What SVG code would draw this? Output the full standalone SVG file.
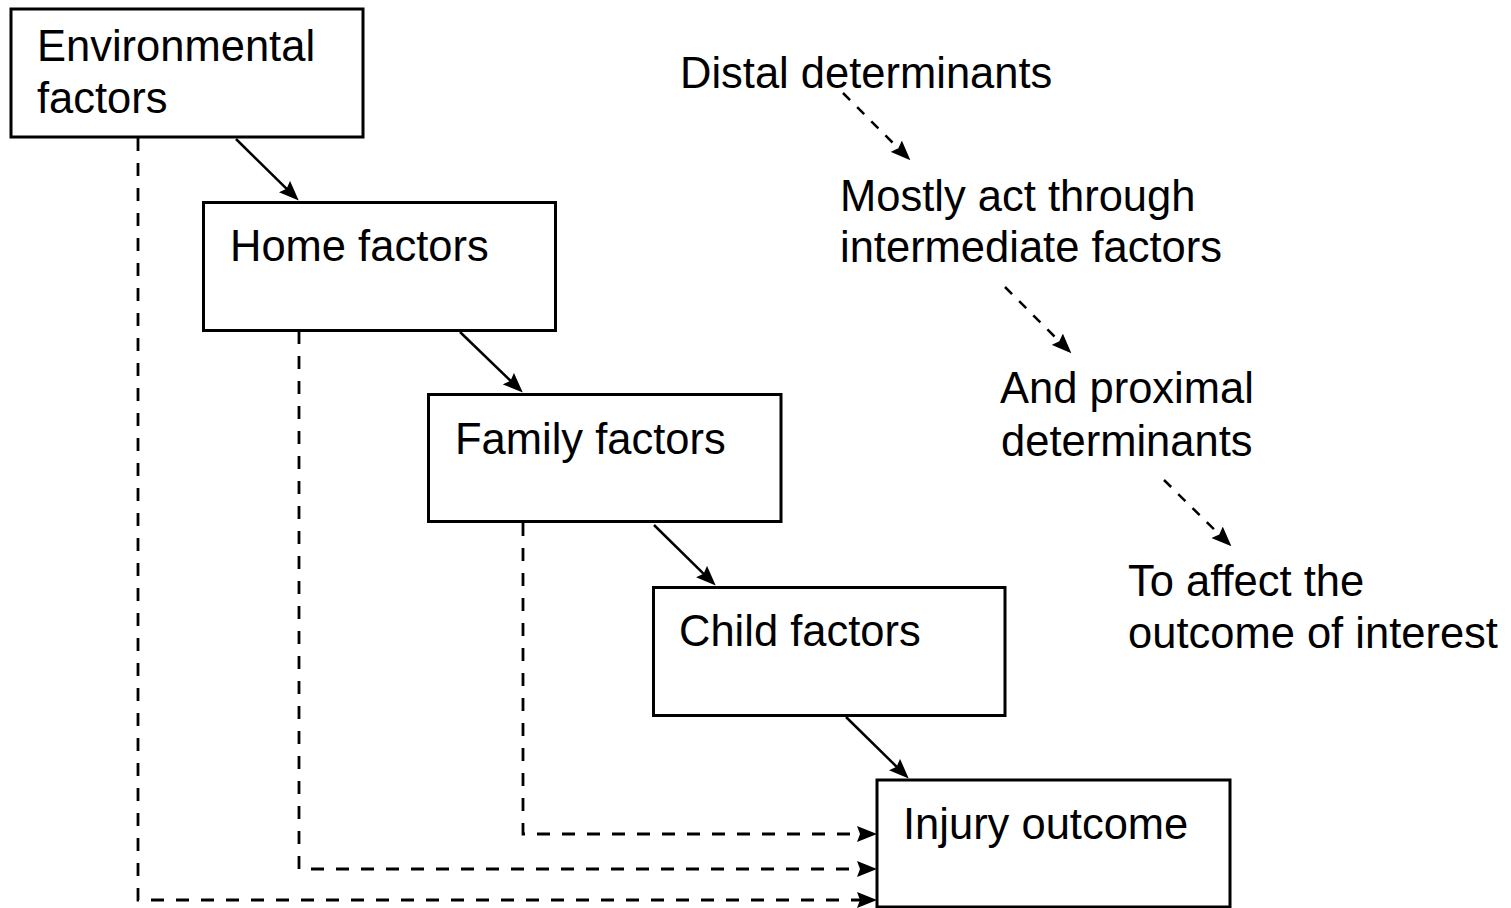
<svg xmlns="http://www.w3.org/2000/svg" width="1511" height="908" viewBox="0 0 1511 908">
<style>
.box{fill:#fff;stroke:#000;stroke-width:3}
.t{font-family:"Liberation Sans",Arial,sans-serif;font-size:43.5px;fill:#000}
.solid{stroke:#000;stroke-width:2.5;fill:none}
.dash{stroke:#000;stroke-width:2.8;fill:none;stroke-dasharray:13 12}
.ddash{stroke:#000;stroke-width:2.5;fill:none;stroke-dasharray:10 10}
</style>
<defs>
<marker id="ah" viewBox="0 0 20 16" refX="11" refY="8" markerWidth="20" markerHeight="16" markerUnits="userSpaceOnUse" orient="auto">
<path d="M0,0 L20,8 L0,16 L3,8 z" fill="#000"/>
</marker>
</defs>
<rect width="1511" height="908" fill="#fff"/>
<g id="connectors">
<path class="solid" d="M236,139 L292.3,194.3" marker-end="url(#ah)"/>
<path class="solid" d="M460,332 L516.3,386.3" marker-end="url(#ah)"/>
<path class="solid" d="M654,525 L709.3,579.3" marker-end="url(#ah)"/>
<path class="solid" d="M846,717 L902.3,772.3" marker-end="url(#ah)"/>
<path class="dash" d="M138,138 L138,900 L868,900" marker-end="url(#ah)"/>
<path class="dash" d="M299,331 L299,869 L868,869" marker-end="url(#ah)"/>
<path class="dash" d="M523,523 L523,834 L868,834" marker-end="url(#ah)"/>
<path class="ddash" d="M843,93 L904,154" marker-end="url(#ah)"/>
<path class="ddash" d="M1005,287 L1065,347" marker-end="url(#ah)"/>
<path class="ddash" d="M1164,480 L1225,540" marker-end="url(#ah)"/>
</g>
<g id="env">
<rect class="box" x="11" y="9" width="352" height="128"/>
<text class="t" x="37" y="61">Environmental</text>
<text class="t" x="37" y="113">factors</text>
</g>
<g id="home">
<rect class="box" x="203.5" y="202.5" width="352" height="128"/>
<text class="t" x="230" y="261">Home factors</text>
</g>
<g id="family">
<rect class="box" x="428.5" y="394.5" width="352.5" height="127"/>
<text class="t" x="455" y="454">Family factors</text>
</g>
<g id="child">
<rect class="box" x="653.5" y="587.5" width="351.5" height="128"/>
<text class="t" x="679" y="646">Child factors</text>
</g>
<g id="injury">
<rect class="box" x="877" y="780" width="353" height="127"/>
<text class="t" x="903" y="839">Injury outcome</text>
</g>
<g id="distal">
<text class="t" x="680" y="88">Distal determinants</text>
</g>
<g id="intermediate">
<text class="t" x="840" y="211">Mostly act through</text>
<text class="t" x="840" y="262">intermediate factors</text>
</g>
<g id="proximal">
<text class="t" x="1000" y="403">And proximal</text>
<text class="t" x="1001" y="456">determinants</text>
</g>
<g id="outcome">
<text class="t" x="1128" y="596">To affect the</text>
<text class="t" x="1128" y="648">outcome of interest</text>
</g>
</svg>
